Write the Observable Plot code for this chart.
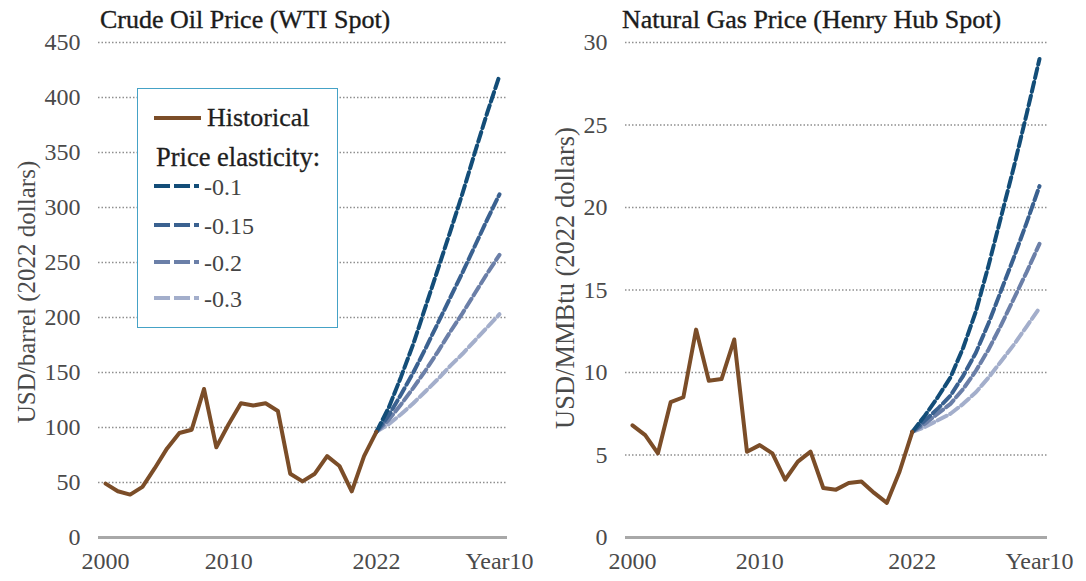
<!DOCTYPE html>
<html><head><meta charset="utf-8">
<script src="https://cdn.jsdelivr.net/npm/d3@7"></script>
<script src="https://cdn.jsdelivr.net/npm/@observablehq/plot@0.6"></script>
<style>
body{margin:0;background:#fff;width:1086px;height:581px;overflow:hidden;position:relative;font-family:"Liberation Serif","DejaVu Serif",serif;}
.title{position:absolute;top:7px;font-size:26px;line-height:26px;color:#1b1b1b;white-space:nowrap;-webkit-text-stroke:0.35px #1b1b1b;}
.panel{position:absolute;top:28px;}
#legend{position:absolute;left:137px;top:88px;width:201px;height:240px;box-sizing:border-box;border:1.6px solid #45a2c6;background:#fff;}
#legend svg{position:absolute;left:-1.6px;top:-1.6px;overflow:visible;}
</style></head><body>
<div class="title" style="left:100px">Crude Oil Price (WTI Spot)</div>
<div class="title" style="left:622px">Natural Gas Price (Henry Hub Spot)</div>
<div id="left" class="panel" style="left:0"></div>
<div id="right" class="panel" style="left:543px"></div>
<div id="legend"></div>
<script>
// ---- data ----
const histYears = [2000,2001,2002,2003,2004,2005,2006,2007,2008,2009,2010,2011,2012,2013,2014,2015,2016,2017,2018,2019,2020,2021,2022];
const oilHist = [49,42,39,46,63,81,95,98,135,82,103,122,120,122,115,58,51,58,74,65,42,74,96];
const gasHist = [6.8,6.2,5.1,8.2,8.5,12.6,9.5,9.6,12.0,5.2,5.6,5.1,3.5,4.6,5.2,3.0,2.9,3.3,3.4,2.7,2.1,4.0,6.4];

const projYears = [2022,2023,2024,2025,2026,2027,2028,2029,2030,2031,2032];
const elasticities = ["-0.1","-0.15","-0.2","-0.3"];
const elasticityColors = ["#134d78","#3a6190","#6b7fa8","#a3aecb"];
const oilProj01  = [96,118,146,176,210,244,278,313,350,386,420];
const oilProj015 = [96,111,130,150,172,195,218,241,265,289,312];
const oilProj02  = [96,107,121,136,152,169,187,204,222,240,257];
const oilProj03  = [96,103,112,122,133,144,156,167,179,191,203];
const gasProj01  = [6.4,7.4,8.5,9.7,11.5,13.7,16.5,19.5,22.5,25.7,29.0];
const gasProj015 = [6.4,7.1,7.8,8.6,9.8,11.2,13.0,15.0,17.0,19.1,21.3];
const gasProj02  = [6.4,6.9,7.5,8.1,9.0,10.1,11.4,12.9,14.5,16.1,17.8];
const gasProj03  = [6.4,6.7,7.1,7.5,8.1,8.8,9.7,10.7,11.7,12.8,13.9];

const xTicks = [2000,2010,2022,2032];
const xTickLabels = ["2000","2010","2022","Year10"];
const oilTicks = [0,50,100,150,200,250,300,350,400,450];
const gasTicks = [0,5,10,15,20,25,30];
const oilLabel = "USD/barrel (2022 dollars)";
const gasLabel = "USD/MMBtu (2022 dollars)";

const histColor = "#7b4d28";

// ---- tables ----
const hist = (vals) => histYears.map((year,i) => ({year, value: vals[i]}));
function proj(seriesList){
  const rows = [];
  // lightest first so the darkest lies on top
  for (let k = seriesList.length - 1; k >= 0; k--) {
    projYears.forEach((year,i) => rows.push({year, value: seriesList[k][i], elasticity: elasticities[k]}));
  }
  return rows;
}
const oilHistT = hist(oilHist), gasHistT = hist(gasHist);
const oilProjT = proj([oilProj01,oilProj015,oilProj02,oilProj03]);
const gasProjT = proj([gasProj01,gasProj015,gasProj02,gasProj03]);

function panel({histT, projT, ticks, yMax, label, marginLeft, marginRight, xDomain, labelDx, labelDy, labelSize}){
  return Plot.plot({
    width: 543, height: 553,
    marginLeft, marginRight, marginTop: 14, marginBottom: 44,
    style: {fontFamily: "'Liberation Serif', serif", fontSize: "24px", color: "#4a4a4a", background: "transparent", overflow: "visible"},
    x: {domain: xDomain, ticks: xTicks, tickFormat: d => xTickLabels[xTicks.indexOf(d)], tickSize: 0, tickPadding: 14, label: null},
    y: {domain: [0, yMax], ticks, tickSize: 0, tickPadding: 18, label: null},
    color: {domain: elasticities, range: elasticityColors},
    marks: [
      Plot.ruleY(ticks.filter(d => d > 0), {stroke: "#8f8f8f", strokeDasharray: "1.5,2", strokeWidth: 1.3}),
      Plot.ruleY([0], {stroke: "#a8a8a8", strokeWidth: 3}),
      Plot.line(projT, {x: "year", y: "value", z: "elasticity", stroke: "elasticity", strokeWidth: 4, strokeDasharray: "10,4"}),
      Plot.line(histT, {x: "year", y: "value", stroke: histColor, strokeWidth: 4, strokeLinejoin: "round"}),
      Plot.text([label], {text: d => d, frameAnchor: "left", textAnchor: "middle", rotate: -90, dx: labelDx, dy: labelDy, fontSize: labelSize, fill: "#4a4a4a"})
    ]
  });
}

document.getElementById("left").append(panel({
  histT: oilHistT, projT: oilProjT, ticks: oilTicks, yMax: 450,
  label: oilLabel, marginLeft: 98, marginRight: 36,
  xDomain: [1999.43, 2032.65], labelDx: -72, labelDy: 2, labelSize: 25
}));
document.getElementById("right").append(panel({
  histT: gasHistT, projT: gasProjT, ticks: gasTicks, yMax: 30,
  label: gasLabel, marginLeft: 82, marginRight: 39,
  xDomain: [1999.45, 2032.63], labelDx: -60, labelDy: -12, labelSize: 26.5
}));

// ---- legend ----
const ns = "http://www.w3.org/2000/svg";
const lg = document.createElementNS(ns, "svg");
lg.setAttribute("width", 201); lg.setAttribute("height", 240);
function el(tag, attrs, text){
  const e = document.createElementNS(ns, tag);
  for (const k in attrs) e.setAttribute(k, attrs[k]);
  if (text) e.textContent = text;
  lg.appendChild(e);
}
el("line", {x1: 18, x2: 65, y1: 31, y2: 31, stroke: histColor, "stroke-width": 4});
el("text", {x: 71, y: 39, "font-size": 26, fill: "#1e1e1e", stroke: "#1e1e1e", "stroke-width": 0.3, "font-family": "Liberation Serif"}, "Historical");
el("text", {x: 20, y: 79, "font-size": 26.5, fill: "#1e1e1e", stroke: "#1e1e1e", "stroke-width": 0.3, "font-family": "Liberation Serif"}, "Price elasticity:");
const itemY = [99, 138, 175, 211];
elasticities.forEach((lab, i) => {
  el("line", {x1: 18, x2: 63, y1: itemY[i], y2: itemY[i], stroke: elasticityColors[i], "stroke-width": 4, "stroke-dasharray": "16,4"});
  el("text", {x: 68, y: itemY[i] + 9, "font-size": 24, fill: "#444", "font-family": "Liberation Serif"}, lab);
});
document.getElementById("legend").appendChild(lg);
</script>
</body></html>
